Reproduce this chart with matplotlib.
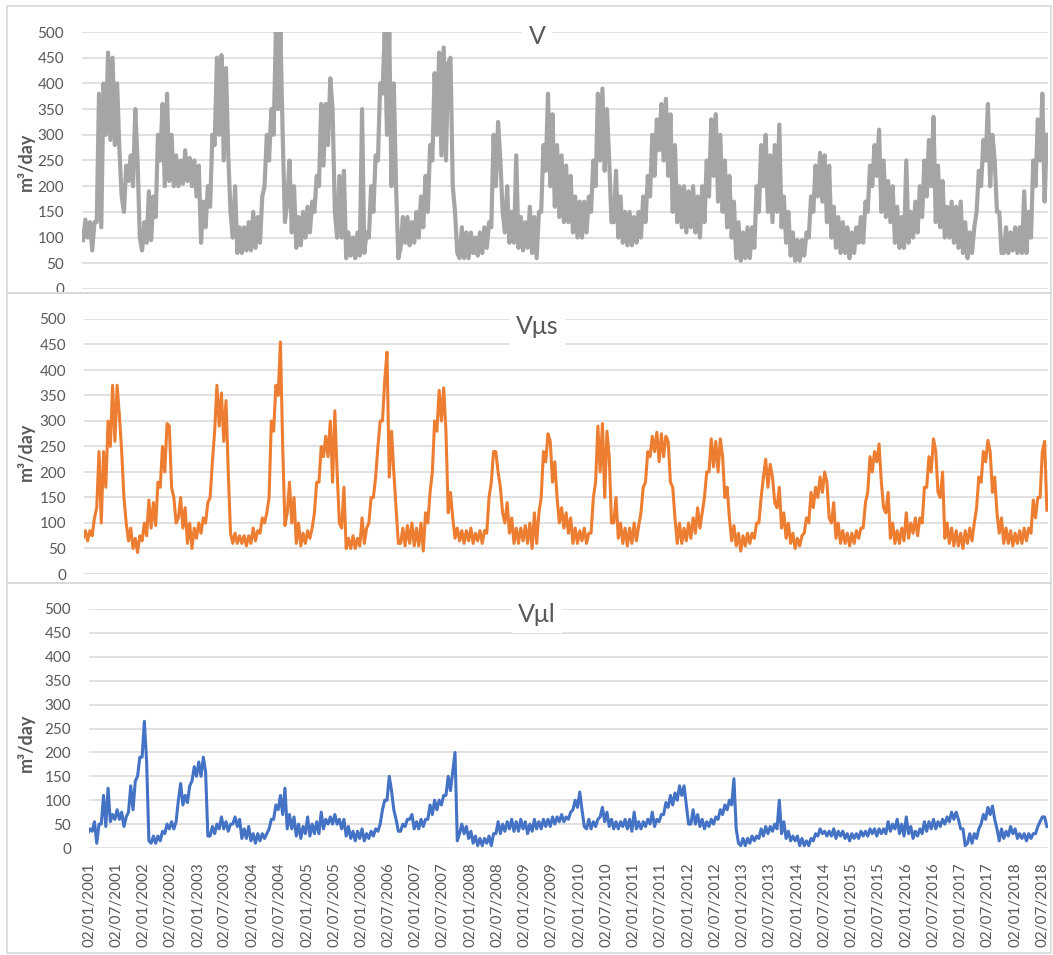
import numpy as np
import pandas as pd
import matplotlib
matplotlib.use("Agg")
import matplotlib.pyplot as plt
from matplotlib.patches import Rectangle

# two readings per month (early, late) off the picture, Jan 2001 - Aug 2018, m3/day
v_total = [
    # 2001
    (95, 135), (100, 130), (75, 130), (130, 380), (120, 400), (300, 460),
    (290, 450), (280, 400), (270, 180), (150, 240), (210, 260), (200, 350),
    # 2002
    (250, 100), (75, 130), (90, 190), (95, 180), (140, 300), (250, 360),
    (200, 380), (210, 300), (200, 260), (200, 250), (205, 270), (210, 255),
    # 2003
    (200, 250), (180, 240), (90, 170), (120, 200), (160, 300), (280, 450),
    (300, 455), (250, 430), (260, 150), (100, 200), (70, 120), (70, 120),
    # 2004
    (75, 130), (75, 150), (80, 140), (90, 180), (200, 300), (250, 350),
    (300, 500), (350, 500), (300, 130), (170, 250), (110, 200), (80, 140),
    # 2005
    (85, 150), (100, 160), (110, 170), (150, 220), (200, 360), (240, 360),
    (280, 410), (350, 150), (100, 220), (100, 230), (60, 110), (65, 100),
    # 2006
    (60, 110), (65, 350), (70, 110), (100, 200), (150, 260), (250, 400),
    (380, 500), (300, 500), (200, 400), (200, 60), (80, 140), (90, 140),
    # 2007
    (85, 130), (90, 150), (100, 180), (120, 220), (150, 280), (250, 420),
    (300, 460), (260, 470), (250, 440), (450, 200), (150, 70), (60, 120),
    # 2008
    (60, 110), (60, 110), (70, 100), (65, 110), (70, 120), (80, 130),
    (120, 300), (200, 325), (250, 150), (110, 200), (90, 150), (90, 260),
    # 2009
    (80, 140), (75, 130), (80, 160), (70, 140), (60, 150), (150, 280),
    (230, 380), (200, 340), (160, 280), (140, 260), (130, 240), (130, 220),
    # 2010
    (110, 180), (100, 170), (100, 170), (110, 180), (150, 250), (200, 380),
    (250, 390), (230, 350), (250, 130), (130, 230), (100, 180), (90, 150),
    # 2011
    (85, 150), (85, 140), (90, 150), (100, 180), (130, 220), (180, 300),
    (220, 330), (270, 360), (250, 370), (220, 340), (150, 280), (130, 200),
    # 2012
    (120, 200), (110, 190), (120, 200), (110, 180), (100, 200), (130, 250),
    (180, 330), (220, 340), (170, 300), (150, 250), (120, 220), (100, 170),
    # 2013
    (60, 130), (55, 110), (60, 120), (60, 120), (80, 200), (150, 280),
    (200, 300), (150, 260), (130, 280), (150, 320), (120, 180), (90, 150),
    # 2014
    (65, 110), (55, 95), (55, 95), (65, 110), (100, 180), (150, 240),
    (180, 265), (170, 260), (130, 240), (100, 160), (80, 140), (70, 130),
    # 2015
    (70, 120), (60, 110), (70, 120), (90, 140), (90, 170), (150, 240),
    (200, 280), (220, 310), (150, 250), (140, 210), (130, 200), (90, 160),
    # 2016
    (80, 140), (80, 250), (90, 150), (100, 170), (110, 200), (140, 250),
    (180, 290), (200, 335), (130, 240), (120, 210), (100, 160), (100, 170),
    # 2017
    (90, 160), (80, 170), (70, 130), (60, 110), (70, 120), (150, 230),
    (200, 290), (250, 360), (200, 300), (250, 150), (150, 70), (70, 120),
    # 2018
    (70, 110), (75, 120), (70, 120), (70, 190), (70, 150), (100, 250),
    (200, 330), (250, 380), (170, 300),
]

v_mus = [
    # 2001
    (70, 85), (65, 85), (75, 110), (130, 240), (100, 240), (170, 300),
    (250, 370), (260, 370), (310, 240), (150, 100), (65, 90), (50, 70),
    # 2002
    (42, 75), (65, 100), (75, 145), (90, 140), (95, 180), (170, 250),
    (200, 295), (290, 170), (150, 100), (110, 150), (90, 130), (60, 100),
    # 2003
    (50, 90), (70, 100), (80, 110), (100, 140), (150, 220), (280, 370),
    (290, 355), (260, 340), (200, 80), (60, 80), (60, 75), (60, 75),
    # 2004
    (55, 75), (60, 90), (65, 85), (80, 110), (100, 120), (150, 300),
    (280, 370), (350, 455), (250, 95), (120, 180), (100, 150), (60, 100),
    # 2005
    (55, 80), (60, 85), (70, 90), (120, 180), (180, 250), (230, 270),
    (230, 300), (180, 320), (200, 100), (90, 170), (50, 70), (50, 75),
    # 2006
    (50, 70), (55, 110), (60, 90), (100, 150), (150, 190), (250, 300),
    (300, 380), (435, 190), (280, 200), (130, 60), (60, 90), (55, 95),
    # 2007
    (60, 100), (55, 90), (55, 100), (45, 120), (100, 160), (200, 300),
    (280, 360), (300, 365), (280, 120), (160, 110), (70, 90), (65, 85),
    # 2008
    (60, 85), (65, 90), (60, 80), (65, 85), (60, 85), (80, 150),
    (180, 240), (240, 200), (170, 120), (100, 140), (80, 110), (60, 90),
    # 2009
    (60, 90), (65, 95), (60, 100), (50, 120), (60, 120), (150, 240),
    (220, 275), (260, 180), (220, 150), (100, 130), (90, 120), (80, 110),
    # 2010
    (60, 90), (60, 85), (65, 90), (60, 80), (80, 150), (180, 290),
    (200, 295), (150, 280), (230, 100), (100, 150), (70, 100), (60, 90),
    # 2011
    (55, 90), (60, 100), (65, 95), (120, 170), (180, 240), (230, 270),
    (240, 278), (220, 275), (230, 270), (260, 180), (170, 110), (60, 100),
    # 2012
    (60, 90), (65, 100), (70, 110), (80, 130), (90, 120), (150, 200),
    (200, 265), (210, 260), (200, 265), (230, 150), (170, 110), (65, 95),
    # 2013
    (55, 80), (45, 75), (55, 80), (60, 80), (70, 100), (100, 150),
    (190, 225), (170, 215), (190, 140), (130, 170), (90, 120), (70, 100),
    # 2014
    (60, 80), (50, 70), (55, 75), (80, 110), (100, 160), (130, 170),
    (150, 190), (160, 200), (180, 110), (100, 140), (70, 100), (60, 85),
    # 2015
    (60, 80), (55, 80), (60, 85), (70, 90), (90, 140), (160, 230),
    (200, 240), (220, 255), (180, 130), (120, 160), (70, 100), (60, 85),
    # 2016
    (60, 90), (65, 120), (70, 100), (80, 110), (75, 110), (100, 170),
    (170, 230), (200, 265), (240, 160), (150, 200), (70, 100), (60, 90),
    # 2017
    (55, 85), (55, 80), (50, 85), (60, 90), (65, 100), (130, 190),
    (180, 240), (220, 262), (240, 160), (190, 120), (80, 110), (60, 90),
    # 2018
    (60, 85), (55, 80), (60, 85), (60, 90), (65, 90), (80, 145),
    (110, 150), (150, 240), (260, 125),
]

v_mul = [
    # 2001
    (30, 40), (30, 40), (35, 55), (10, 50), (50, 110), (45, 125),
    (55, 70), (60, 80), (60, 75), (45, 65), (75, 130), (80, 140),
    # 2002
    (150, 190), (190, 265), (180, 15), (10, 25), (10, 25), (15, 35),
    (30, 50), (40, 55), (40, 55), (100, 135), (90, 110), (95, 130),
    # 2003
    (140, 170), (150, 180), (150, 190), (160, 25), (25, 45), (30, 50),
    (40, 65), (40, 55), (35, 50), (50, 65), (45, 60), (20, 40),
    # 2004
    (20, 45), (15, 30), (10, 30), (15, 30), (20, 30), (40, 60),
    (60, 90), (80, 110), (70, 125), (40, 70), (40, 65), (25, 50),
    # 2005
    (20, 45), (30, 65), (25, 50), (30, 55), (30, 75), (40, 60),
    (50, 65), (50, 70), (50, 60), (40, 60), (25, 45), (20, 35),
    # 2006
    (15, 35), (20, 40), (15, 30), (20, 35), (25, 40), (35, 50),
    (80, 100), (100, 150), (120, 80), (60, 35), (35, 50), (45, 60),
    # 2007
    (60, 70), (40, 55), (40, 60), (45, 60), (60, 90), (70, 100),
    (80, 100), (90, 110), (110, 150), (120, 160), (200, 15), (30, 50),
    # 2008
    (30, 45), (20, 35), (10, 25), (5, 20), (5, 20), (10, 25),
    (5, 30), (30, 55), (30, 50), (35, 55), (40, 60), (35, 55),
    # 2009
    (35, 60), (40, 55), (30, 50), (35, 60), (40, 55), (40, 60),
    (45, 60), (45, 65), (50, 65), (55, 70), (55, 65), (60, 75),
    # 2010
    (80, 100), (85, 117), (80, 45), (40, 60), (40, 55), (45, 60),
    (65, 85), (55, 75), (45, 60), (40, 55), (40, 55), (45, 60),
    # 2011
    (40, 60), (35, 75), (40, 55), (40, 55), (45, 60), (50, 75),
    (45, 60), (55, 70), (70, 95), (85, 110), (90, 115), (100, 130),
    # 2012
    (110, 130), (90, 50), (50, 80), (50, 70), (45, 60), (40, 55),
    (45, 60), (50, 65), (60, 80), (70, 90), (80, 100), (90, 145),
    # 2013
    (40, 10), (5, 20), (5, 20), (10, 25), (15, 25), (20, 40),
    (25, 45), (30, 45), (35, 50), (40, 100), (30, 55), (20, 35),
    # 2014
    (15, 25), (15, 25), (5, 20), (5, 15), (5, 20), (15, 30),
    (25, 40), (30, 35), (25, 35), (25, 40), (20, 35), (25, 35),
    # 2015
    (20, 30), (15, 30), (20, 30), (20, 35), (25, 35), (25, 40),
    (30, 40), (25, 40), (30, 40), (30, 55), (35, 50), (40, 60),
    # 2016
    (30, 50), (25, 65), (30, 45), (20, 35), (25, 40), (30, 55),
    (35, 55), (40, 60), (40, 55), (45, 60), (50, 65), (55, 75),
    # 2017
    (60, 75), (60, 40), (40, 5), (10, 30), (10, 30), (20, 40),
    (50, 70), (60, 85), (70, 88), (60, 40), (15, 40), (20, 35),
    # 2018
    (25, 45), (30, 40), (20, 30), (20, 30), (15, 30), (20, 30),
    (30, 45), (55, 65), (65, 45),
]

titles = ["V", "V\u03bcs", "V\u03bcl"]
colors = ["#a5a5a5", "#ed7d31", "#4472c4"]
start, end = pd.Timestamp("2001-01-01"), pd.Timestamp("2018-08-11")
tick_dates = pd.date_range("2001-01-01", "2018-07-01", freq="6MS") + pd.Timedelta(days=1)
tick_labels = [d.strftime("%d/%m/%Y") for d in tick_dates]


def flat(pairs):
    return [v for p in pairs for v in p]


def reading_dates(left, n):
    # readings were taken at evenly spaced pixels 82..1048; map them onto
    # the date axis of a plot area that starts at `left`
    px = 82 + (np.arange(n) + 0.5) * 966 / n
    frac = (px - left) / (1048 - left)
    return pd.DatetimeIndex([start + (end - start) * f for f in frac])


plt.rcParams["font.family"] = ["Lato", "DejaVu Sans"]
txt = "#595959"
grid = "#d9d9d9"

W, H = 1053, 955
fig = plt.figure(figsize=(W / 100, H / 100), dpi=100)

# plot areas in pixels: left, top, bottom (right edge is 1048 for all)
boxes = [(82, 32, 289), (84, 319, 574), (89, 609, 848)]
frames = [(6, 293), (293, 583), (583, 953)]
title_y = [37, 327, 615]
ylab_y = [162, 452, 743]
series = [v_total, v_mus, v_mul]
widths = [3.0, 2.2, 2.2]

for i in range(3):
    left, top, bot = boxes[i]
    ax = fig.add_axes([left / W, 1 - bot / H, (1048 - left) / W, (bot - top) / H])
    vals = flat(series[i])
    ax.plot(reading_dates(left, len(vals)), vals, color=colors[i], lw=widths[i])
    ax.set_xlim(start, end)
    ax.set_ylim(0, 500)
    ax.set_yticks(range(0, 501, 50))
    ax.grid(axis="y", color=grid, lw=1.1)
    ax.set_axisbelow(True)
    for s in ax.spines.values():
        s.set_visible(False)
    ax.tick_params(axis="both", length=0, colors=txt, labelsize=11)
    ax.tick_params(axis="y", pad=13)
    ax.set_xticks(tick_dates)
    if i < 2:
        ax.set_xticklabels([])
    else:
        ax.set_xticklabels(tick_labels, rotation=90, ha="center", va="top", fontsize=11)
        ax.tick_params(axis="x", pad=10)

    fig.text(26 / W, 1 - ylab_y[i] / H, "m\u00b3/day", rotation=90, ha="center", va="center",
             fontsize=13, fontweight="bold", color=txt)
    fig.text(537 / W, 1 - title_y[i] / H, titles[i], ha="center", va="center",
             fontsize=18, color=txt,
             bbox=dict(boxstyle="square,pad=0.25", fc="white", ec="none"))

    ft, fb = frames[i]
    fig.add_artist(Rectangle((7 / W, 1 - fb / H), 1044 / W, (fb - ft) / H,
                             transform=fig.transFigure, fill=False, ec=grid, lw=1.2))

plt.savefig("out.png", dpi=100)
